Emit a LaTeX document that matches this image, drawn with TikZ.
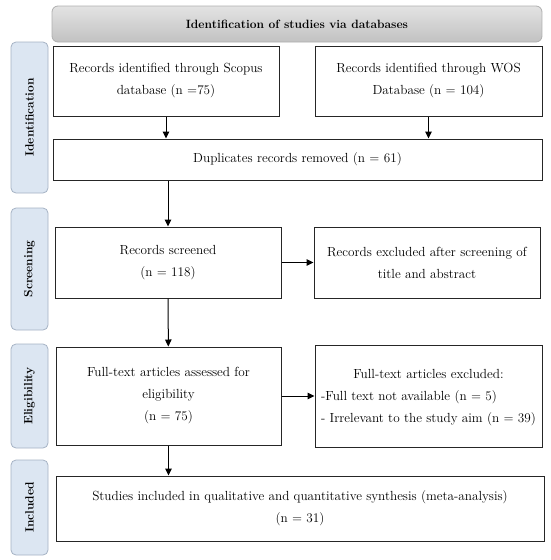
\documentclass[tikz,border=0pt]{standalone}
\usetikzlibrary{arrows.meta}
\definecolor{sideblue}{RGB}{220,230,242}
\definecolor{sideedge}{RGB}{165,178,196}
\definecolor{headedge}{RGB}{175,175,175}
\begin{document}
\begin{tikzpicture}[x=1pt,y=-1pt,>={Stealth[length=7pt,width=6.5pt,inset=0pt]},line width=1pt,
  box/.style={draw=black!85,line width=1pt,inner sep=0pt,align=center,font=\fontsize{13.2}{22}\selectfont},
  side/.style={draw=sideedge,fill=sideblue,line width=0.8pt,rounded corners=5pt,rotate=90,minimum height=37pt,inner sep=0pt,font=\bfseries\fontsize{12}{14}\selectfont},
  head/.style={draw=headedge,line width=0.8pt,rounded corners=6pt,top color=gray!22,bottom color=gray!48,minimum width=490pt,minimum height=36pt,inner sep=0pt,font=\bfseries\fontsize{12}{14}\selectfont}]

  \useasboundingbox (0,0) rectangle (550,560);

  \node[head] (hdr) at (297,24) {Identification of studies via databases};

  \node[side, minimum width=151pt] (sid) at (29.5,117.5) {Identification};
  \node[side, minimum width=122pt] (sscr) at (29.5,269) {Screening};
  \node[side, minimum width=104pt] (selig) at (29.5,396) {Eligibility};
  \node[side, minimum width=95pt] (sincl) at (29.5,507.5) {Included};

  \node[box, minimum width=226pt, minimum height=70pt] (scopus) at (166,81) {Records identified through Scopus\\database (n =75)};
  \node[box, minimum width=227pt, minimum height=70pt] (wos) at (428.5,81) {Records identified through WOS\\Database (n = 104)};
  \node[box, minimum width=489pt, minimum height=41pt] (dup) at (297.5,159.5) {Duplicates records removed (n = 61)};
  \node[box, minimum width=226pt, minimum height=71pt] (screen) at (168,262.5) {Records screened\\(n = 118)};
  \node[box, minimum width=226pt, minimum height=71pt] (excl) at (427,262.5) {Records excluded after screening of\\title and abstract};
  \node[box, minimum width=225pt, minimum height=98pt] (full) at (168.5,396) {Full-text articles assessed for\\eligibility\\(n = 75)};
  \node[box, minimum width=227pt, minimum height=102pt] (fexcl) at (428.5,396) {\begin{tabular}{@{}l@{}}\multicolumn{1}{@{}c@{}}{Full-text articles excluded:}\\-Full text not available (n = 5)\\- Irrelevant to the study aim (n = 39)\end{tabular}};
  \node[box, minimum width=488pt, minimum height=65pt] (incl) at (300,508.5) {Studies included in qualitative and quantitative synthesis (meta-analysis)\\(n = 31)};

  \draw[->] (scopus) -- (scopus |- dup.north);
  \draw[->] (wos) -- (wos |- dup.north);
  \draw[->] (dup.south -| screen) -- (screen);
  \draw[->] (screen) -- (excl);
  \draw[->] (screen) -- (full);
  \draw[->] (full) -- (fexcl);
  \draw[->] (full.south) -- (full.south |- incl.north);
\end{tikzpicture}
\end{document}
